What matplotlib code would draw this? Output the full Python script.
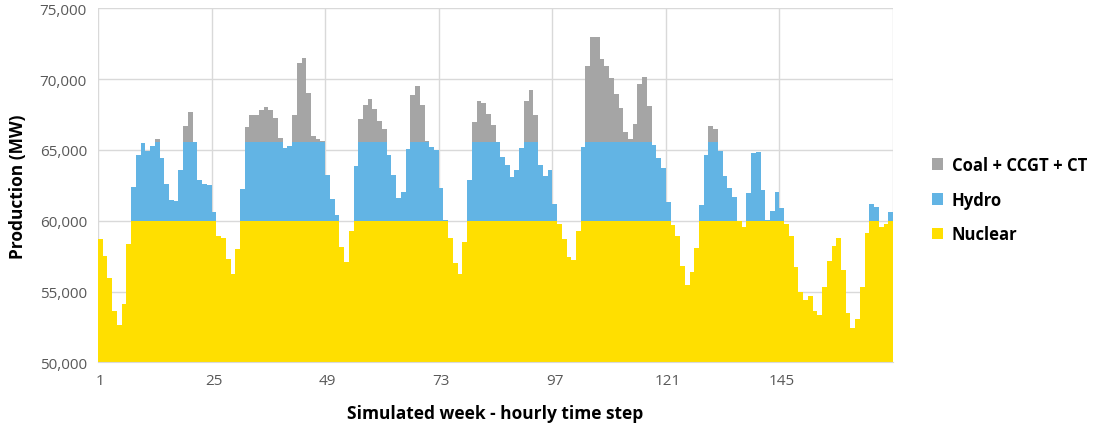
import numpy as np
import matplotlib.pyplot as plt

plt.rcParams['font.family'] = ['Open Sans', 'DejaVu Sans']

# hourly production (MW) for one simulated week
nuclear = [
    58700, 57500, 55950, 53650, 52650, 54100, 58350, 60000, 60000, 60000, 60000, 60000,
    60000, 60000, 60000, 60000, 60000, 60000, 60000, 60000, 60000, 60000, 60000, 60000,
    60000, 58950, 58800, 57300, 56250, 58000, 60000, 60000, 60000, 60000, 60000, 60000,
    60000, 60000, 60000, 60000, 60000, 60000, 60000, 60000, 60000, 60000, 60000, 60000,
    60000, 60000, 60000, 58150, 57100, 59300, 60000, 60000, 60000, 60000, 60000, 60000,
    60000, 60000, 60000, 60000, 60000, 60000, 60000, 60000, 60000, 60000, 60000, 60000,
    60000, 60000, 58800, 57050, 56250, 58500, 60000, 60000, 60000, 60000, 60000, 60000,
    60000, 60000, 60000, 60000, 60000, 60000, 60000, 60000, 60000, 60000, 60000, 60000,
    60000, 59750, 58700, 57450, 57200, 59300, 60000, 60000, 60000, 60000, 60000, 60000,
    60000, 60000, 60000, 60000, 60000, 60000, 60000, 60000, 60000, 60000, 60000, 60000,
    60000, 59700, 58950, 56800, 55450, 56350, 58100, 60000, 60000, 60000, 60000, 60000,
    60000, 60000, 60000, 59950, 59550, 60000, 60000, 60000, 60000, 60000, 60000, 60000,
    60000, 59750, 58900, 56750, 55000, 54400, 54700, 53650, 53350, 55300, 57150, 58250,
    58750, 56550, 53500, 52450, 53050, 55350, 59150, 60000, 60000, 59550, 59750, 60000,
]
hydro = [
    0, 0, 0, 0, 0, 0, 0, 2400, 4650, 5500, 4950, 5250,
    5550, 4450, 2600, 1500, 1400, 3600, 5550, 5550, 5550, 2900, 2600, 2500,
    650, 0, 0, 0, 0, 0, 2250, 5550, 5550, 5550, 5550, 5550,
    5550, 5550, 5550, 5150, 5250, 5550, 5550, 5550, 5550, 5550, 5550, 5550,
    3200, 1550, 400, 0, 0, 0, 3850, 5550, 5550, 5550, 5550, 5550,
    5550, 4650, 3200, 1600, 2000, 5050, 5550, 5550, 5550, 5550, 5200, 5000,
    2350, 50, 0, 0, 0, 0, 2900, 5550, 5550, 5550, 5550, 5550,
    5550, 4500, 3950, 3100, 3600, 5150, 5550, 5550, 5550, 3950, 3150, 3600,
    1200, 0, 0, 0, 0, 0, 5200, 5550, 5550, 5550, 5550, 5550,
    5550, 5550, 5550, 5550, 5550, 5550, 5550, 5550, 5550, 5350, 4450, 3750,
    1300, 0, 0, 0, 0, 0, 0, 1150, 4650, 5550, 5550, 4900,
    3150, 2300, 1650, 0, 0, 1950, 4800, 4850, 2150, 50, 700, 2050,
    900, 0, 0, 0, 0, 0, 0, 0, 0, 0, 0, 0,
    0, 0, 0, 0, 0, 0, 0, 1200, 1000, 0, 0, 650,
]
coal = [
    0, 0, 0, 0, 0, 0, 0, 0, 0, 0, 0, 0,
    200, 0, 0, 0, 0, 0, 1150, 2100, 0, 0, 0, 0,
    0, 0, 0, 0, 0, 0, 0, 1050, 1950, 1950, 2300, 2500,
    2300, 1700, 300, 0, 0, 1950, 5600, 5950, 3450, 450, 250, 100,
    0, 0, 0, 0, 0, 0, 0, 1650, 2650, 3050, 2350, 1500,
    900, 0, 0, 0, 0, 0, 3300, 4000, 2600, 100, 0, 0,
    0, 0, 0, 0, 0, 0, 0, 1400, 2900, 2800, 2000, 1200,
    0, 0, 0, 0, 0, 0, 2900, 3700, 1900, 0, 0, 0,
    0, 0, 0, 0, 0, 0, 0, 5400, 7450, 7400, 5900, 5350,
    4550, 3400, 2400, 750, 250, 1300, 4100, 4600, 2550, 0, 0, 0,
    0, 0, 0, 0, 0, 0, 0, 0, 0, 1150, 900, 0,
    0, 0, 0, 0, 0, 0, 0, 0, 0, 0, 0, 0,
    0, 0, 0, 0, 0, 0, 0, 0, 0, 0, 0, 0,
    0, 0, 0, 0, 0, 0, 0, 0, 0, 0, 0, 0,
]
hours = np.arange(1, len(nuclear) + 1)
xticks = [1, 25, 49, 73, 97, 121, 145]
yticks = [50000, 55000, 60000, 65000, 70000, 75000]

nuclear = np.array(nuclear)
hydro = np.array(hydro)
coal = np.array(coal)

fig = plt.figure(figsize=(10.94, 4.27), dpi=100)
ax = fig.add_axes([0.0896, 0.149, 0.7267, 0.829])

ax.bar(hours, nuclear - 50000, bottom=50000, width=1.0, color='#FFDF00',
       label='Nuclear', zorder=2)
ax.bar(hours, hydro, bottom=nuclear, width=1.0, color='#62B4E4',
       label='Hydro', zorder=2)
ax.bar(hours, coal, bottom=nuclear + hydro, width=1.0, color='#A5A5A5',
       label='Coal + CCGT + CT', zorder=2)

# gridlines behind the bars
for y in yticks[1:]:
    ax.axhline(y, color='#D9D9D9', lw=1, zorder=0)
for x in np.arange(0.5, 169, 24):
    ax.axvline(x, color='#D9D9D9', lw=1, zorder=0)

ax.set_xlim(0.5, 168.5)
ax.set_ylim(50000, 75000)
ax.set_xticks(xticks)
ax.set_yticks(yticks)
ax.set_yticklabels([f'{v:,}' for v in yticks])
ax.tick_params(length=0, labelsize=11, colors='#595959', pad=8)

for s in ['top', 'right', 'left']:
    ax.spines[s].set_visible(False)
ax.spines['bottom'].set_color('#D9D9D9')

ax.set_xlabel('Simulated week - hourly time step', fontsize=12.5,
              fontweight='bold', labelpad=11)
ax.set_ylabel('Production (MW)', fontsize=12.5, fontweight='bold', labelpad=9)

handles, labels = ax.get_legend_handles_labels()
fig.legend(handles[::-1], labels[::-1], loc='center left',
           bbox_to_anchor=(0.838, 0.53), frameon=False,
           prop={'weight': 'bold', 'size': 12}, handlelength=0.7,
           handleheight=0.7, handletextpad=0.5, labelspacing=1.0)

fig.savefig('out.png', dpi=100)
